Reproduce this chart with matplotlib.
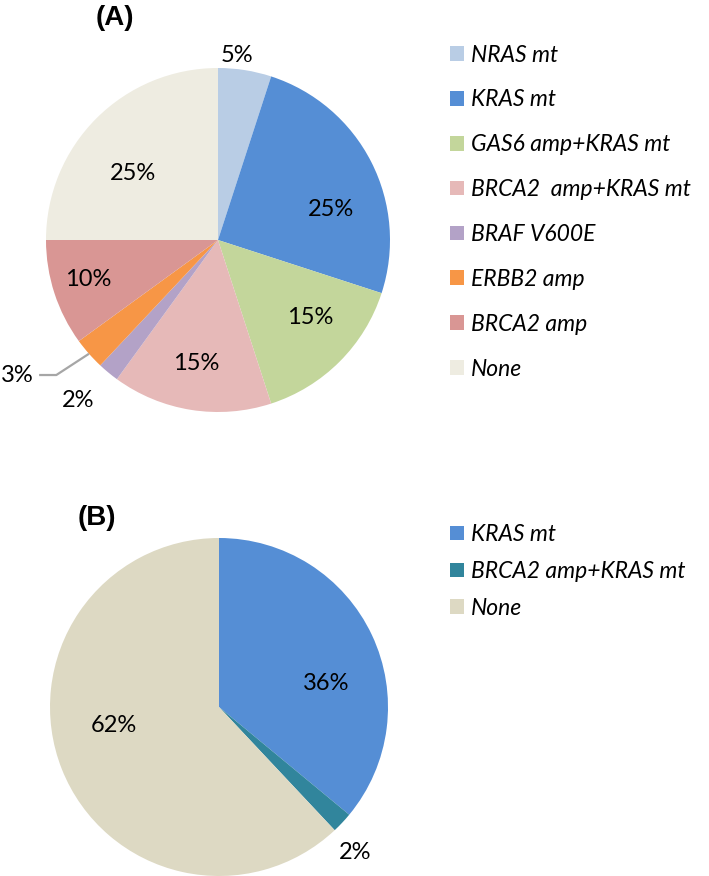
import numpy as np
import matplotlib
matplotlib.use("Agg")
import matplotlib.pyplot as plt

plt.rcParams['font.family'] = ['Lato', 'DejaVu Sans']

# panel A data
labels_a = ['NRAS mt', 'KRAS mt', 'GAS6 amp+KRAS mt', 'BRCA2  amp+KRAS mt',
            'BRAF V600E', 'ERBB2 amp', 'BRCA2 amp', 'None']
values_a = [5, 25, 15, 15, 2, 3, 10, 25]
colors_a = ['#B9CDE5', '#558ED5', '#C3D69B', '#E6B9B8',
            '#B3A2C7', '#F79646', '#D99694', '#EEECE1']

# panel B data
labels_b = ['KRAS mt', 'BRCA2 amp+KRAS mt', 'None']
values_b = [36, 2, 62]
colors_b = ['#558ED5', '#31859C', '#DDD9C3']

# label placement (radius, angle in deg) relative to pie centre
lab_pos_a = [(1.08, 84), (0.68, 15), (0.70, -40), (0.73, -100),
             (1.24, 229), (1.41, 214), (0.79, 197), (0.63, 142)]
lab_pos_b = [(0.65, 12.5), (1.18, -47), (0.63, 190)]

W, H = 709, 876
fig = plt.figure(figsize=(W / 100, H / 100), dpi=100)


def pie_axes(cx, cy, r):
    return fig.add_axes([(cx - r) / W, (H - cy - r) / H, 2 * r / W, 2 * r / H])


def draw_pie(ax, vals, cols, pos):
    wedges, _ = ax.pie(vals, colors=cols, startangle=90, counterclock=False,
                       radius=1, wedgeprops=dict(linewidth=0))
    for v, (rr, ang) in zip(vals, pos):
        t = np.deg2rad(ang)
        ax.text(rr * np.cos(t), rr * np.sin(t), f'{v}%', ha='center',
                va='center', fontsize=17, color='black')
    ax.set_xlim(-1, 1)
    ax.set_ylim(-1, 1)
    ax.set_aspect('equal')
    ax.axis('off')
    return wedges


def legend_at(wedges, labels, top, spacing):
    leg = fig.legend(wedges, labels, loc='upper left',
                     bbox_to_anchor=(441 / W, 1 - top / H), frameon=False,
                     fontsize=16.5, handlelength=0.6, handleheight=0.6,
                     handletextpad=0.3, labelspacing=spacing, borderaxespad=0)
    for t in leg.get_texts():
        t.set_fontstyle('italic')
    return leg


# ---- (A)
ax_a = pie_axes(218, 240, 172)
w_a = draw_pie(ax_a, values_a, colors_a, lab_pos_a)
# leader line for the 3% slice
mid = np.deg2rad((w_a[5].theta1 + w_a[5].theta2) / 2)
x0, y0 = 1.0 * np.cos(mid), 1.0 * np.sin(mid)
ax_a.plot([x0, -0.94, -1.04], [y0, -0.785, -0.785], color='#A6A6A6',
          lw=1.6, clip_on=False, solid_capstyle='butt')
fig.text(115 / W, 1 - 18 / H, '(A)', ha='center', va='center', fontsize=20,
         fontweight='bold', family='Liberation Sans')
legend_at(w_a, labels_a, 35.5, 1.04)

# ---- (B)
ax_b = pie_axes(219, 707, 169)
w_b = draw_pie(ax_b, values_b, colors_b, lab_pos_b)
fig.text(97 / W, 1 - 518 / H, '(B)', ha='center', va='center', fontsize=20,
         fontweight='bold', family='Liberation Sans')
legend_at(w_b, labels_b, 515, 0.69)

fig.savefig('out.png', dpi=100)
